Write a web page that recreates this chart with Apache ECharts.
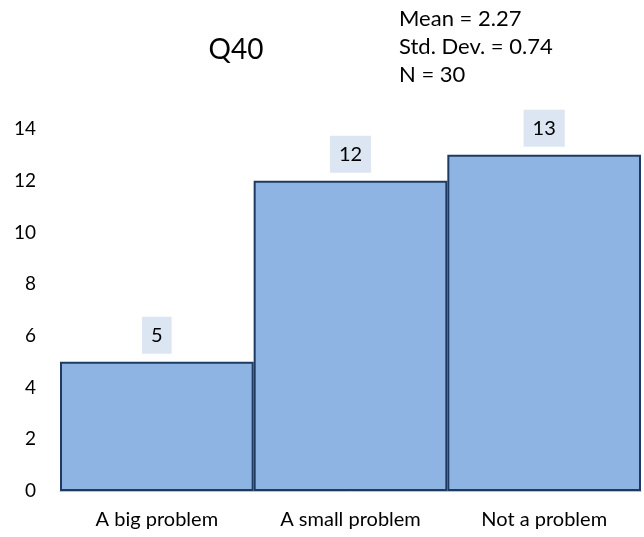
<!DOCTYPE html>
<html>
<head>
<meta charset="utf-8">
<script src="https://cdn.jsdelivr.net/npm/echarts@6/dist/echarts.min.js"></script>
<style>
  html, body { margin: 0; padding: 0; background: #fff; }
  #chart { width: 644px; height: 537px; }
</style>
</head>
<body>
<div id="chart"></div>
<script>
// Response categories and counts for Q40
const categories = ['A big problem', 'A small problem', 'Not a problem'];
const counts = [5, 12, 13];
// Summary statistics shown in the corner
const statLines = ['Mean = 2.27', 'Std. Dev. = 0.74', 'N = 30'];
// Value axis settings
const yMin = 0;
const yMax = 14;
const yStep = 2;

const FONT = 'Lato, "Open Sans", sans-serif';

const chart = echarts.init(document.getElementById('chart'), null, { renderer: 'canvas' });

chart.setOption({
  animation: false,
  backgroundColor: '#ffffff',
  title: [
    {
      text: 'Q40',
      left: 231,
      top: 31,
      textAlign: 'center',
      textStyle: { fontFamily: FONT, fontSize: 28, fontWeight: 'normal', color: '#000' }
    },
    {
      text: statLines.join('\n'),
      left: 394,
      top: 0,
      textStyle: { fontFamily: FONT, fontSize: 22, fontWeight: 'normal', color: '#000', lineHeight: 28 }
    }
  ],
  grid: { left: 60, right: 3, top: 129, bottom: 46, containLabel: false },
  xAxis: {
    type: 'category',
    data: categories,
    axisLine: { show: true, lineStyle: { color: '#bfbfbf', width: 1 } },
    axisTick: { show: false },
    axisLabel: { fontFamily: FONT, fontSize: 20, color: '#000', margin: 19 }
  },
  yAxis: {
    type: 'value',
    min: yMin,
    max: yMax,
    interval: yStep,
    axisLine: { show: false },
    axisTick: { show: false },
    splitLine: { show: false },
    axisLabel: { fontFamily: FONT, fontSize: 19, color: '#000', margin: 24 }
  },
  series: [{
    type: 'bar',
    data: counts,
    barCategoryGap: '0%',
    itemStyle: { color: '#8eb4e3', borderColor: '#1f3a60', borderWidth: 2 },
    label: {
      show: true,
      position: 'top',
      distance: 8,
      fontFamily: FONT,
      fontSize: 20,
      color: '#000',
      backgroundColor: '#dce6f2',
      padding: [9, 9, 8, 9]
    }
  }]
});
</script>
</body>
</html>
